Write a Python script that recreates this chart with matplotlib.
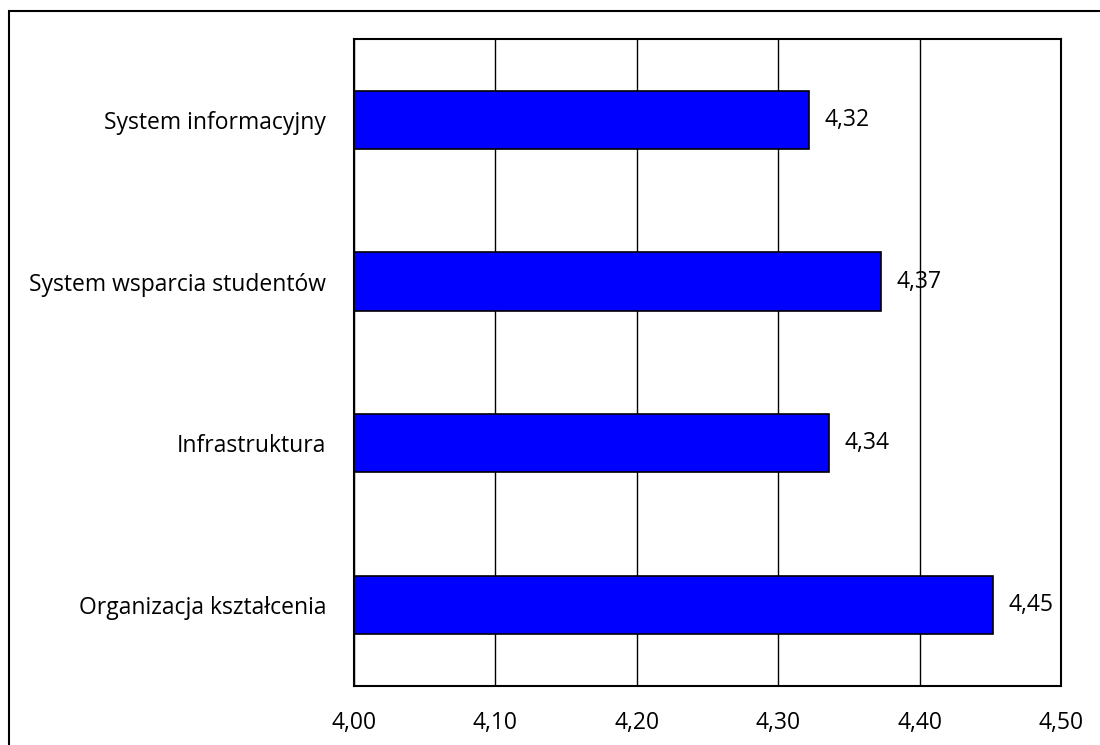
import numpy as np
import matplotlib.pyplot as plt
from matplotlib.patches import Rectangle

plt.rcParams['font.family'] = ['Open Sans', 'DejaVu Sans']

# data (bottom to top)
categories = ['Organizacja kształcenia', 'Infrastruktura',
              'System wsparcia studentów', 'System informacyjny']
values = [4.452, 4.336, 4.373, 4.322]
xticks = [4.00, 4.10, 4.20, 4.30, 4.40, 4.50]

fig = plt.figure(figsize=(11, 7.45), dpi=100)
ax = fig.add_axes([0.3218, 0.0792, 0.6427, 0.8685])

y = np.arange(len(categories))
ax.barh(y, np.array(values) - 4.0, left=4.0, height=0.36,
        color='#0000FF', edgecolor='black', linewidth=1.2, zorder=3)

for yi, v in zip(y, values):
    ax.text(v + 0.011, yi, ('%.2f' % v).replace('.', ','), va='center', ha='left',
            fontsize=16.5, zorder=4)

ax.set_xlim(4.0, 4.5)
ax.set_ylim(-0.5, len(categories) - 0.5)
ax.set_xticks(xticks)
ax.set_xticklabels([('%.2f' % t).replace('.', ',') for t in xticks], fontsize=16.5)
ax.set_yticks(y)
ax.set_yticklabels(categories, fontsize=16.5)
ax.tick_params(axis='both', length=0)
ax.tick_params(axis='x', pad=18)
ax.tick_params(axis='y', pad=20)
ax.grid(True, axis='x', color='black', linewidth=1.0, zorder=0)
for s in ax.spines.values():
    s.set_linewidth(1.5)
    s.set_color('black')

# outer chart border (cut off at right and bottom)
fig.add_artist(Rectangle((9 / 1100, -0.1), 1.2, 1 - 11 / 745 + 0.1,
                         transform=fig.transFigure, fill=False,
                         edgecolor='black', linewidth=1.5, clip_on=False))

fig.savefig('out.png', dpi=100)
